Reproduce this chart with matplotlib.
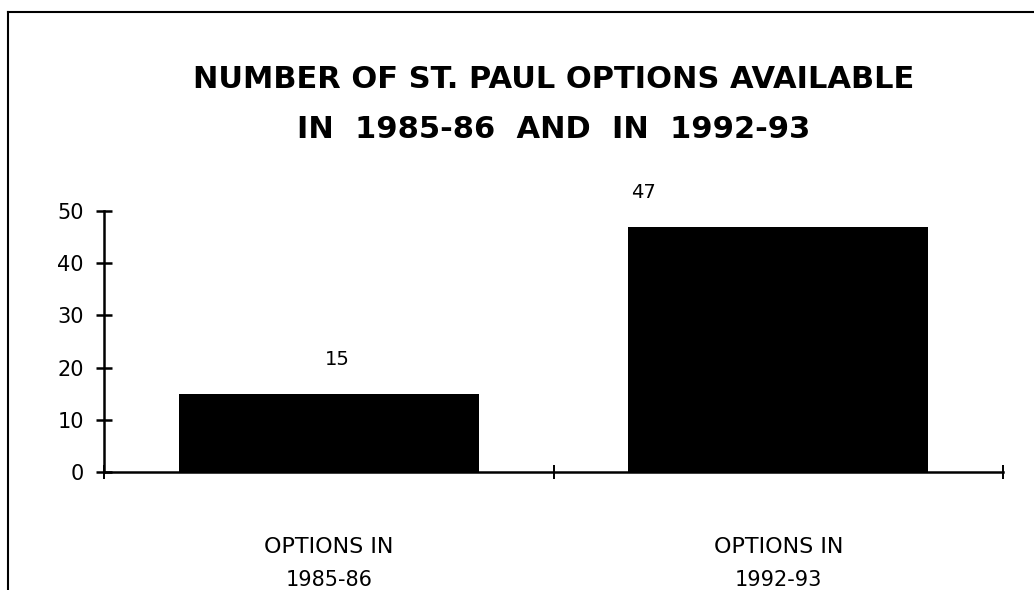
import matplotlib
matplotlib.use("Agg")
import matplotlib.pyplot as plt
from matplotlib.lines import Line2D
from matplotlib.transforms import blended_transform_factory

# data
categories = ["OPTIONS IN\n1985-86", "OPTIONS IN\n1992-93"]
values = [15, 47]
yticks = [0, 10, 20, 30, 40, 50]
title_lines = ["NUMBER OF ST. PAUL OPTIONS AVAILABLE", "IN  1985-86  AND  IN  1992-93"]

FONT = ["DejaVu Sans"]

fig = plt.figure(figsize=(10.34, 5.90), dpi=100)
ax = fig.add_axes([0.1006, 0.2, 0.8694, 0.4424])

xs = list(range(len(categories)))
ax.bar(xs, values, width=0.667, color="black")
ax.set_xlim(-0.5, len(categories) - 0.5)
ax.set_ylim(0, 50)

# value labels above bars (the second one sits off-centre in the original)
label_shift = [0.02, -0.30]
for x, v, dx in zip(xs, values, label_shift):
    ax.annotate(str(v), (x + dx, v), xytext=(0, 18), textcoords="offset points",
                ha="center", va="bottom", fontsize=14, family=FONT)

# axes styling
for s in ("top", "right"):
    ax.spines[s].set_visible(False)
for s in ("left", "bottom"):
    ax.spines[s].set_linewidth(1.8)
ax.set_yticks(yticks)
ax.set_yticklabels([str(t) for t in yticks], fontsize=15, family=FONT)
ax.tick_params(axis="y", direction="inout", length=11, width=1.8, pad=9)
ax.set_xticks([x - 0.5 for x in xs] + [xs[-1] + 0.5])
ax.set_xticklabels([])
ax.tick_params(axis="x", direction="inout", length=10, width=1.4)

# category labels: two lines under each bar
trans = blended_transform_factory(ax.transData, fig.transFigure)
for x, cat in zip(xs, categories):
    top, bottom = cat.split("\n")
    ax.text(x, 1 - 547 / 590, top, transform=trans, ha="center", va="center",
            fontsize=16, family=FONT)
    ax.text(x, 1 - 580 / 590, bottom, transform=trans, ha="center", va="center",
            fontsize=15, family=FONT)

# title
fig.text(0.535, 1 - 80 / 590, title_lines[0], ha="center", va="center",
         fontsize=22, fontweight="bold", family=FONT)
fig.text(0.535, 1 - 130 / 590, title_lines[1], ha="center", va="center",
         fontsize=22, fontweight="bold", family=FONT)

# page frame (left and top edges)
fig.add_artist(Line2D([8 / 1034, 8 / 1034], [0, 1 - 12 / 590], color="black", lw=1.5))
fig.add_artist(Line2D([8 / 1034, 1], [1 - 12 / 590, 1 - 12 / 590], color="black", lw=1.5))

fig.savefig("out.png", dpi=100)
